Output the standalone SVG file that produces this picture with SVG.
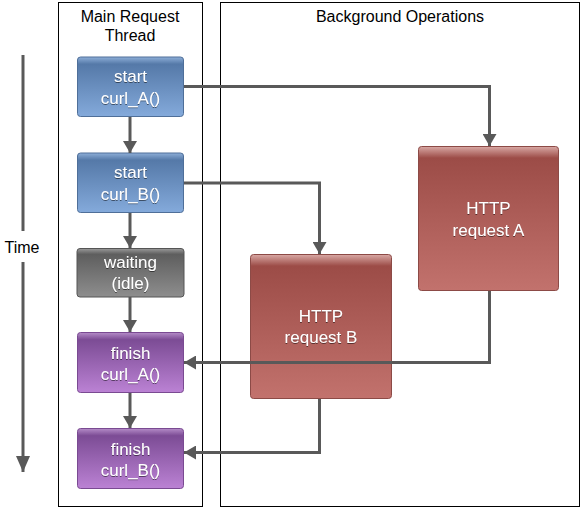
<svg xmlns="http://www.w3.org/2000/svg" width="582" height="508" viewBox="0 0 582 508">
<style>
.lane{fill:#fff;stroke:#000;stroke-width:1}
.hdr{font-family:"Liberation Sans",Arial,sans-serif;font-size:16px;fill:#000;text-anchor:middle}
.lbl{font-family:"Liberation Sans",Arial,sans-serif;font-size:17px;fill:#fff;text-anchor:middle;filter:url(#sh)}
.conn{fill:none;stroke:#595959;stroke-width:3}
.box{stroke-width:1}
.blue{fill:url(#gBlue);stroke:#4f6f99}
.grey{fill:url(#gGrey);stroke:#555}
.purp{fill:url(#gPurp);stroke:#7a4a92}
.red{fill:url(#gRed);stroke:#8c4a46}
</style>
<defs>
<filter id="sh" x="-20%" y="-20%" width="140%" height="160%">
<feDropShadow dx="0" dy="1" stdDeviation="0.6" flood-color="#000" flood-opacity="0.5"/>
</filter>
<linearGradient id="gBlue" x1="0" y1="0" x2="0" y2="1">
<stop offset="0" stop-color="#8eafd8"/>
<stop offset="0.12" stop-color="#5579a8"/>
<stop offset="1" stop-color="#84aadb"/>
</linearGradient>
<linearGradient id="gGrey" x1="0" y1="0" x2="0" y2="1">
<stop offset="0" stop-color="#9a9a9a"/>
<stop offset="0.12" stop-color="#5e5e5e"/>
<stop offset="1" stop-color="#8e8e8e"/>
</linearGradient>
<linearGradient id="gPurp" x1="0" y1="0" x2="0" y2="1">
<stop offset="0" stop-color="#b58cc8"/>
<stop offset="0.12" stop-color="#7c4c95"/>
<stop offset="1" stop-color="#bb82d4"/>
</linearGradient>
<linearGradient id="gRed" x1="0" y1="0" x2="0" y2="1">
<stop offset="0" stop-color="#d9a9a5"/>
<stop offset="0.08" stop-color="#9c4c47"/>
<stop offset="1" stop-color="#c2726d"/>
</linearGradient>
<marker id="ah" viewBox="0 0 12 14" refX="12" refY="7" markerWidth="12" markerHeight="14" markerUnits="userSpaceOnUse" orient="auto">
<path d="M0,0 L12,7 L0,14 Z" fill="#595959"/>
</marker>
<marker id="ahT" viewBox="0 0 16 14" refX="16" refY="7" markerWidth="16" markerHeight="14" markerUnits="userSpaceOnUse" orient="auto">
<path d="M0,0 L16,7 L0,14 Z" fill="#595959"/>
</marker>
</defs>

<g id="lane-main">
<rect class="lane" x="58.5" y="2.5" width="144" height="504"/>
<text class="hdr" x="130" y="22">Main Request</text>
<text class="hdr" x="130" y="41">Thread</text>
</g>
<g id="lane-bg">
<rect class="lane" x="220.5" y="2.5" width="359" height="504"/>
<text class="hdr" x="400" y="22">Background Operations</text>
</g>

<g id="time-axis">
<line class="conn" x1="23" y1="55" x2="23" y2="231"/>
<line class="conn" x1="23" y1="262" x2="23" y2="472" marker-end="url(#ahT)"/>
<text class="hdr" x="22" y="253">Time</text>
</g>

<g id="node-start-a">
<rect class="box blue" x="77.5" y="57" width="106" height="59.5" rx="3"/>
<text class="lbl" x="130.5" y="82">start</text>
<text class="lbl" x="130.5" y="103.5">curl_A()</text>
</g>
<g id="node-start-b">
<rect class="box blue" x="77.5" y="153" width="106" height="59.5" rx="3"/>
<text class="lbl" x="130.5" y="178">start</text>
<text class="lbl" x="130.5" y="199.5">curl_B()</text>
</g>
<g id="node-waiting">
<rect class="box grey" x="77" y="248.5" width="107" height="48.5" rx="3"/>
<text class="lbl" x="130.5" y="268">waiting</text>
<text class="lbl" x="130.5" y="289">(idle)</text>
</g>
<g id="node-finish-a">
<rect class="box purp" x="77.5" y="332.5" width="106" height="60" rx="3"/>
<text class="lbl" x="130.5" y="358.5">finish</text>
<text class="lbl" x="130.5" y="380">curl_A()</text>
</g>
<g id="node-finish-b">
<rect class="box purp" x="77.5" y="428.5" width="106" height="60" rx="3"/>
<text class="lbl" x="130.5" y="454.5">finish</text>
<text class="lbl" x="130.5" y="476">curl_B()</text>
</g>
<g id="node-http-a">
<rect class="box red" x="418.5" y="146.5" width="140" height="144" rx="3"/>
<text class="lbl" x="488.5" y="213.5">HTTP</text>
<text class="lbl" x="488.5" y="236">request A</text>
</g>
<g id="node-http-b">
<rect class="box red" x="250.5" y="254.5" width="141" height="144" rx="3"/>
<text class="lbl" x="321" y="321.5">HTTP</text>
<text class="lbl" x="321" y="343">request B</text>
</g>

<g id="connectors">
<line class="conn" x1="130" y1="117" x2="130" y2="153" marker-end="url(#ah)"/>
<line class="conn" x1="130" y1="213" x2="130" y2="248" marker-end="url(#ah)"/>
<line class="conn" x1="130" y1="297" x2="130" y2="332" marker-end="url(#ah)"/>
<line class="conn" x1="130" y1="393" x2="130" y2="428" marker-end="url(#ah)"/>
<polyline class="conn" points="184,86.5 489.5,86.5 489.5,146" marker-end="url(#ah)"/>
<polyline class="conn" points="184,183 319.5,183 319.5,254" marker-end="url(#ah)"/>
<polyline class="conn" points="489.5,291 489.5,362.5 184,362.5" marker-end="url(#ah)"/>
<polyline class="conn" points="319.5,399 319.5,452.5 184,452.5" marker-end="url(#ah)"/>
</g>
</svg>
